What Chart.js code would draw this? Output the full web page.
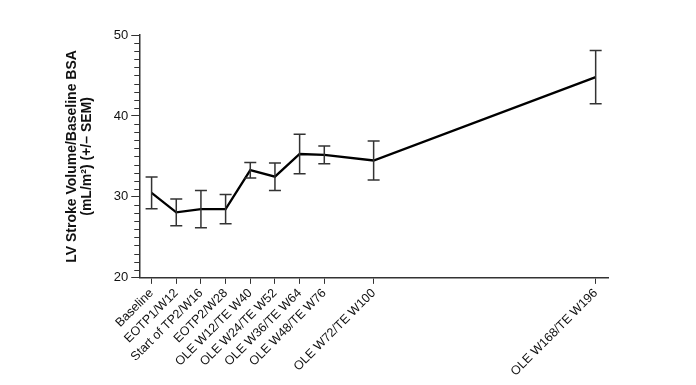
<!DOCTYPE html>
<html>
<head>
<meta charset="utf-8">
<script src="https://cdn.jsdelivr.net/npm/chart.js@4/dist/chart.umd.min.js"></script>
<style>
  html, body { margin: 0; padding: 0; background: #fff; }
  #wrap { width: 696px; height: 385px; }
</style>
</head>
<body>
<div id="wrap"><canvas id="svChart" width="696" height="385"></canvas></div>
<script>
// visits along the x axis (spacing follows the original plot)
const visitLabels = ['Baseline', 'EOTP1/W12', 'Start of TP2/W16', 'EOTP2/W28', 'OLE W12/TE W40',
    'OLE W24/TE W52', 'OLE W36/TE W64', 'OLE W48/TE W76', 'OLE W72/TE W100', 'OLE W168/TE W196'];
const visitPositions = [0, 1, 2, 3, 4, 5, 6, 7, 9, 18];

// mean LV stroke volume / baseline BSA and SEM
const meanValues = [30.5, 28.1, 28.5, 28.5, 33.3, 32.5, 35.3, 35.2, 34.5, 44.8];
const semValues = [1.95, 1.65, 2.3, 1.8, 0.95, 1.7, 2.45, 1.1, 2.4, 3.3];

const yTicks = [20, 30, 40, 50];

const axisColor = '#333';
const fontFamily = '"Liberation Sans", Arial, sans-serif';

// error bars + minor y ticks, drawn through the chart scales
const errorBars = {
    id: 'errorBars',
    afterDatasetsDraw(chart) {
        const { ctx, scales } = chart;
        const xs = scales.x, ys = scales.y;
        ctx.save();
        ctx.strokeStyle = axisColor;
        ctx.lineWidth = 1.5;
        meanValues.forEach((m, i) => {
            const x = xs.getPixelForValue(visitPositions[i]);
            const top = ys.getPixelForValue(m + semValues[i]);
            const bot = ys.getPixelForValue(m - semValues[i]);
            ctx.beginPath();
            ctx.moveTo(x, top); ctx.lineTo(x, bot);
            ctx.moveTo(x - 6, top); ctx.lineTo(x + 6, top);
            ctx.moveTo(x - 6, bot); ctx.lineTo(x + 6, bot);
            ctx.stroke();
        });

        // minor ticks every 1 unit
        ctx.lineWidth = 1;
        const left = ys.right;
        for (let v = ys.min + 1; v < ys.max; v++) {
            if (v % 10 === 0) continue;
            const py = Math.round(ys.getPixelForValue(v)) + 0.5;
            ctx.beginPath();
            ctx.moveTo(left - 5, py);
            ctx.lineTo(left, py);
            ctx.stroke();
        }
        ctx.restore();
    }
};

new Chart(document.getElementById('svChart'), {
    type: 'line',
    data: {
        datasets: [{
            data: visitPositions.map((x, i) => ({ x: x, y: meanValues[i] })),
            borderColor: '#000',
            borderWidth: 2.3,
            pointRadius: 0,
            tension: 0,
            fill: false
        }]
    },
    options: {
        responsive: false,
        animation: false,
        layout: { padding: { left: 64, right: 88, top: 35, bottom: 4 } },
        plugins: {
            legend: { display: false },
            tooltip: { enabled: false }
        },
        scales: {
            x: {
                type: 'linear',
                min: -0.5,
                max: 18.5,
                afterBuildTicks(scale) {
                    scale.ticks = visitPositions.map(v => ({ value: v }));
                },
                grid: { drawOnChartArea: false, tickLength: 6, color: axisColor, tickWidth: 1 },
                border: { color: axisColor, width: 1.5 },
                ticks: {
                    autoSkip: false,
                    minRotation: 45,
                    maxRotation: 45,
                    padding: 2,
                    color: '#111',
                    font: { family: fontFamily, size: 12.5 },
                    callback: (v) => visitLabels[visitPositions.indexOf(v)]
                }
            },
            y: {
                min: 20,
                max: 50,
                afterBuildTicks(scale) {
                    scale.ticks = yTicks.map(v => ({ value: v }));
                },
                grid: { drawOnChartArea: false, tickLength: 8, color: axisColor, tickWidth: 1 },
                border: { color: axisColor, width: 1.5 },
                ticks: {
                    padding: 3,
                    color: '#111',
                    font: { family: fontFamily, size: 13 }
                },
                title: {
                    display: true,
                    text: ['LV Stroke Volume/Baseline BSA', '(mL/m\u00B2) (+/\u2013 SEM)'],
                    color: '#111',
                    font: { family: fontFamily, size: 14, weight: 'bold', lineHeight: 1.1 },
                    padding: { top: 0, bottom: 16 }
                }
            }
        }
    },
    plugins: [errorBars]
});
</script>
</body>
</html>
